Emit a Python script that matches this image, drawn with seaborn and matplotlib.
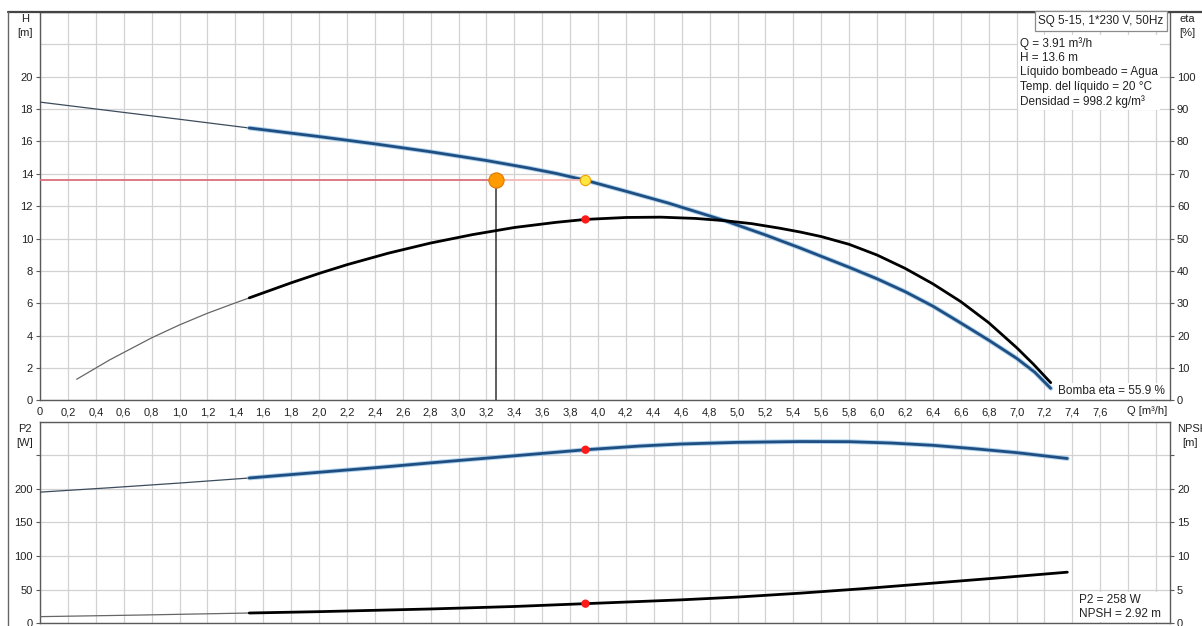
import matplotlib
matplotlib.use("Agg")
import numpy as np
import pandas as pd
import matplotlib.pyplot as plt
from matplotlib.ticker import MultipleLocator, FixedLocator, FuncFormatter
from matplotlib.lines import Line2D
import seaborn as sns

# ---- pump data: SQ 5-15, 1*230 V, 50Hz ----
q_head = [0.0, 0.5, 1.0, 1.5, 2.0, 2.4, 2.8, 3.2, 3.5, 3.7, 3.91, 4.2, 4.5, 4.91, 5.2, 5.45,
          5.8, 6.0, 6.2, 6.4, 6.6, 6.8, 7.0, 7.13, 7.245]
head = [18.43, 17.90, 17.37, 16.83, 16.30, 15.85, 15.36, 14.82, 14.36, 14.02, 13.6, 12.92, 12.2,
        11.1, 10.22, 9.41, 8.22, 7.51, 6.72, 5.82, 4.78, 3.72, 2.60, 1.74, 0.74]

q_eta = [0.263, 0.5, 0.8, 1.0, 1.2, 1.4, 1.5, 1.6, 1.8, 2.0, 2.2, 2.5, 2.8, 3.1, 3.4, 3.7, 3.91,
         4.2, 4.45, 4.7, 4.91, 5.1, 5.3, 5.45, 5.6, 5.8, 6.0, 6.2, 6.4, 6.6, 6.8, 7.0, 7.12, 7.245]
eta = [6.5, 12.5, 19.3, 23.3, 26.9, 30.1, 31.65, 33.2, 36.3, 39.2, 41.9, 45.5, 48.6, 51.2, 53.4,
       55.0, 55.9, 56.5, 56.6, 56.2, 55.5, 54.6, 53.2, 52.0, 50.6, 48.2, 44.9, 40.8, 36.0, 30.5,
       24.0, 16.3, 11.2, 5.45]

q_p2 = [0.0, 0.5, 1.0, 1.5, 2.0, 2.5, 2.8, 3.4, 3.91, 4.3, 4.59, 5.0, 5.45, 5.8, 6.1, 6.4, 6.7,
        7.0, 7.364]
p2 = [195, 201.5, 208.5, 216, 224.5, 233, 238.5, 249, 258, 263.5, 266.5, 269, 270.2, 270, 268,
      264.6, 259.5, 253.7, 245]

q_npsh = [0.0, 0.7, 1.4, 1.5, 2.0, 2.8, 3.4, 3.91, 4.59, 5.0, 5.45, 5.9, 6.4, 6.9, 7.364]
npsh = [0.99, 1.22, 1.49, 1.53, 1.73, 2.13, 2.50, 2.92, 3.48, 3.9, 4.48, 5.15, 5.97, 6.8, 7.6]

# duty point
q_duty, h_duty, eta_duty, p2_duty, npsh_duty = 3.91, 13.6, 55.9, 258, 2.92
q_req = 3.27   # requested-flow marker on the head line

q_split = 1.5  # start of the recommended operating range (thick part)

info_lines = ["Q = 3.91 m³/h", "H = 13.6 m", "Líquido bombeado = Agua",
              "Temp. del líquido = 20 °C", "Densidad = 998.2 kg/m³"]
title_text = "SQ 5-15, 1*230 V, 50Hz"

x_ticks = [round(0.2 * i, 1) for i in range(0, 39)]      # 0 .. 7.6
h_ticks = list(range(0, 21, 2))
eta_ticks = list(range(0, 101, 10))
p2_ticks = [0, 50, 100, 150, 200, 250]
npsh_ticks = [0, 5, 10, 15, 20, 25]

# ---- style ----
sns.set_theme(style="white")
plt.rcParams["font.family"] = ["Liberation Sans", "DejaVu Sans"]
plt.rcParams["font.size"] = 8

W, H = 1202, 626
fig = plt.figure(figsize=(W / 100, H / 100), dpi=100, facecolor="white")


def fx(px):
    return px / W


def fy(py):
    return 1 - py / H


x_left, x_right = 40, 1170
ax_top = fig.add_axes([fx(x_left), fy(400.3), fx(x_right) - fx(x_left), fy(12) - fy(400.3)])
ax_bot = fig.add_axes([fx(x_left), fy(623.3), fx(x_right) - fx(x_left), fy(421.5) - fy(623.3)])
ax_eta = ax_top.twinx()
ax_npsh = ax_bot.twinx()

GRID = "#d2d2d2"
SPINE = "#5a5a5a"
BLUE = "#1f4f82"
HALO = "#8ec0e6"

for ax in (ax_top, ax_bot):
    ax.set_xlim(0, 8.1)
    ax.xaxis.set_minor_locator(MultipleLocator(0.2))
    ax.grid(which="both", color=GRID, lw=0.9)
    ax.set_axisbelow(True)
    ax.tick_params(which="minor", length=0)
    ax.tick_params(which="major", direction="out", length=3, width=0.8, color=SPINE,
                   labelsize=8, labelcolor="#222222", pad=2)
    for s in ax.spines.values():
        s.set_color(SPINE)
        s.set_linewidth(1.0)

for ax in (ax_eta, ax_npsh):
    ax.tick_params(which="major", direction="out", length=3, width=0.8, color=SPINE,
                   labelsize=8, labelcolor="#222222", pad=2)
    ax.grid(False)
    for s in ax.spines.values():
        s.set_visible(False)

ax_top.set_ylim(0, 24)
ax_top.yaxis.set_minor_locator(MultipleLocator(2))
ax_top.yaxis.set_major_locator(FixedLocator(h_ticks))
ax_eta.set_ylim(0, 120)
ax_eta.yaxis.set_major_locator(FixedLocator(eta_ticks))

ax_bot.set_ylim(0, 300)
ax_bot.yaxis.set_minor_locator(MultipleLocator(50))
ax_bot.yaxis.set_major_locator(FixedLocator(p2_ticks))
ax_bot.yaxis.set_major_formatter(FuncFormatter(lambda v, p: "" if v == 250 else f"{v:g}"))
ax_npsh.set_ylim(0, 30)
ax_npsh.yaxis.set_major_locator(FixedLocator(npsh_ticks))
ax_npsh.yaxis.set_major_formatter(FuncFormatter(lambda v, p: "" if v == 25 else f"{v:g}"))

ax_top.xaxis.set_major_locator(FixedLocator(x_ticks))
ax_top.xaxis.set_major_formatter(
    FuncFormatter(lambda v, p: "0" if abs(v) < 1e-9 else f"{v:.1f}".replace(".", ",")))
ax_bot.xaxis.set_major_locator(FixedLocator(x_ticks))
ax_bot.tick_params(axis="x", labelbottom=False)


def draw_curve(ax, q, v, thick_color, thin_color, halo=None):
    """Thin line over the whole curve, thick line over the operating range."""
    df = pd.DataFrame({"Q": q, "V": v})
    thin = df[df["Q"] <= q_split + 0.5]
    sns.lineplot(data=thin, x="Q", y="V", ax=ax, color=thin_color, lw=0.9,
                 estimator=None, sort=False, zorder=3)
    part = df[df["Q"] >= q_split]
    if halo is not None:
        sns.lineplot(data=part, x="Q", y="V", ax=ax, color=halo, lw=3.4, alpha=0.7,
                     estimator=None, sort=False, zorder=3)
    sns.lineplot(data=part, x="Q", y="V", ax=ax, color=thick_color, lw=2.0,
                 estimator=None, sort=False, zorder=4)
    ax.set_xlabel("")
    ax.set_ylabel("")


# upper chart: head and efficiency
draw_curve(ax_top, q_head, head, BLUE, "#3c4c5c", halo=HALO)
draw_curve(ax_eta, q_eta, eta, "#000000", "#666666")

# requested duty lines
ax_top.plot([0, q_req], [h_duty, h_duty], color="#d9707c", lw=1.3, zorder=5)
ax_top.plot([q_req, q_duty], [h_duty, h_duty], color="#f4b9b9", lw=1.3, zorder=5)
ax_top.plot([q_req, q_req], [0, h_duty], color="#333333", lw=1.1, zorder=5)

sns.scatterplot(x=[q_req], y=[h_duty], ax=ax_top, s=120, color="#ff9a00",
                edgecolor="#e07a00", linewidth=0.8, zorder=7)
sns.scatterplot(x=[q_duty], y=[h_duty], ax=ax_top, s=55, color="#ffe640",
                edgecolor="#f0a000", linewidth=0.8, zorder=7)
sns.scatterplot(x=[q_duty], y=[eta_duty], ax=ax_eta, s=36, color="#ff1a1a",
                edgecolor="none", zorder=7)

# lower chart: power and NPSH
draw_curve(ax_bot, q_p2, p2, BLUE, "#3c4c5c", halo=HALO)
draw_curve(ax_npsh, q_npsh, npsh, "#000000", "#666666")
sns.scatterplot(x=[q_duty], y=[p2_duty], ax=ax_bot, s=36, color="#ff1a1a",
                edgecolor="none", zorder=7)
sns.scatterplot(x=[q_duty], y=[npsh_duty], ax=ax_npsh, s=36, color="#ff1a1a",
                edgecolor="none", zorder=7)

for ax in (ax_top, ax_eta, ax_bot, ax_npsh):
    ax.set_xlabel("")
    ax.set_ylabel("")
    if ax.get_legend():
        ax.get_legend().remove()

# axis captions
txt = dict(fontsize=8, color="#222222", ha="center", va="center")
fig.text(fx(25), fy(19), "H", **txt)
fig.text(fx(25), fy(33), "[m]", **txt)
fig.text(fx(1187), fy(19), "eta", **txt)
fig.text(fx(1187), fy(33), "[%]", **txt)
fig.text(fx(25), fy(429), "P2", **txt)
fig.text(fx(25), fy(443), "[W]", **txt)
fig.text(fx(1193), fy(429), "NPSH", **txt)
fig.text(fx(1190), fy(443), "[m]", **txt)
fig.text(fx(1147), fy(411), "Q [m³/h]", **txt)

# title box and fluid information
fig.text(fx(1101), fy(21), title_text, fontsize=8.5, color="#222222", ha="center", va="center",
         bbox=dict(boxstyle="square,pad=0.3", fc="white", ec="#8a8a8a", lw=0.9), zorder=10)
fig.text(fx(1020), fy(37), "\n".join(info_lines), fontsize=8.5, color="#222222",
         ha="left", va="top", linespacing=1.25,
         bbox=dict(boxstyle="square,pad=0.15", fc="white", ec="none"), zorder=10)

fig.text(fx(1165), fy(391), f"Bomba eta = {eta_duty} %", fontsize=8.5, color="#222222",
         ha="right", va="center",
         bbox=dict(boxstyle="square,pad=0.15", fc="white", ec="none"), zorder=10)
fig.text(fx(1079), fy(607), f"P2 = {p2_duty} W\nNPSH = {npsh_duty} m", fontsize=8.5,
         color="#222222", ha="left", va="center", linespacing=1.25,
         bbox=dict(boxstyle="square,pad=0.2", fc="white", ec="none"), zorder=10)

# outer frame
fig.add_artist(Line2D([fx(8), 1.0], [fy(12), fy(12)], color="#444444", lw=1.6))
fig.add_artist(Line2D([fx(8), fx(8)], [fy(12), 0.0], color="#666666", lw=1.0))

fig.savefig("out.png", dpi=100, facecolor="white")
